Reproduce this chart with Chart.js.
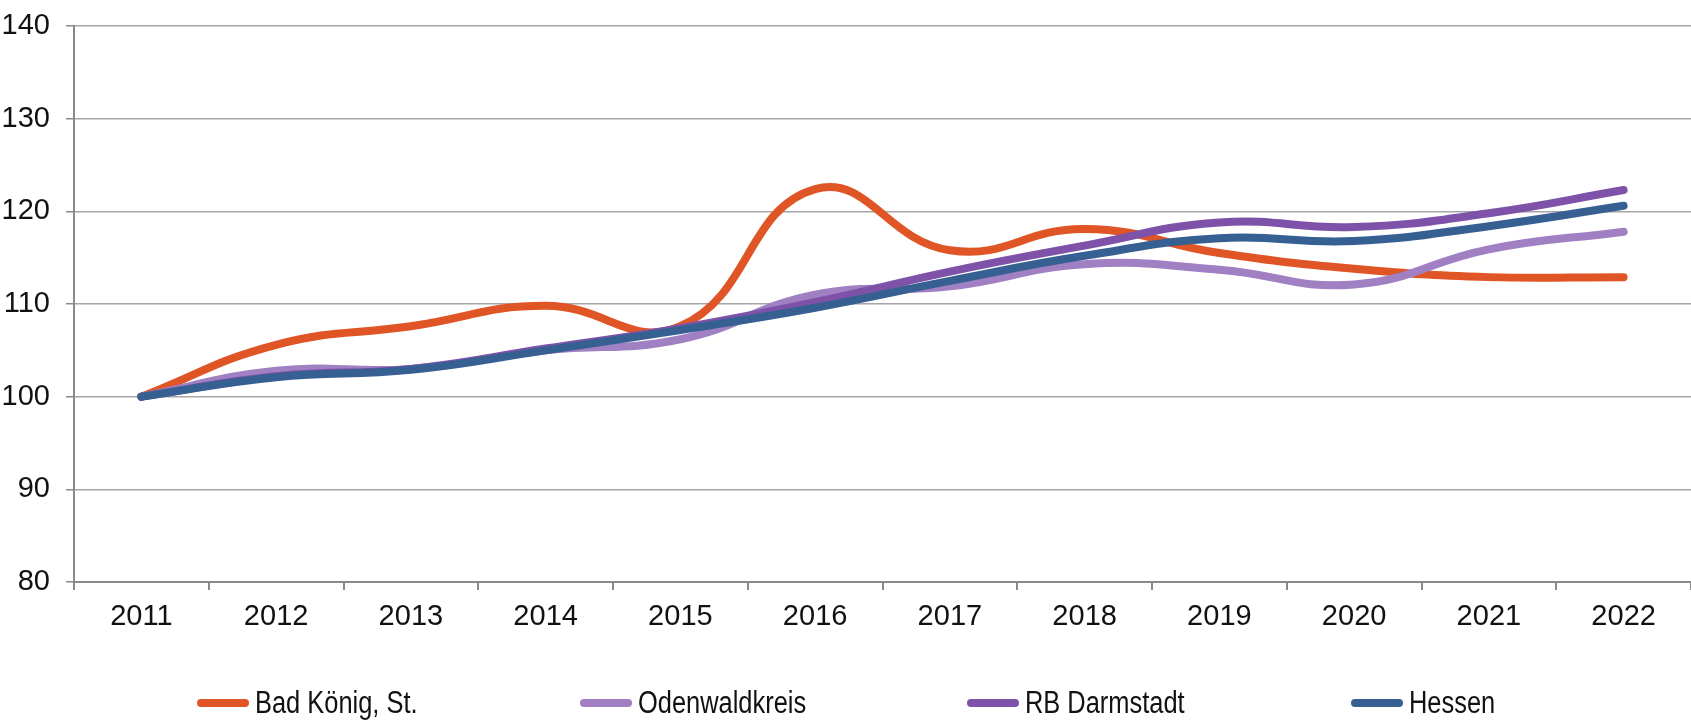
<!DOCTYPE html>
<html>
<head>
<meta charset="utf-8">
<script src="https://cdn.jsdelivr.net/npm/chart.js@4/dist/chart.umd.min.js"></script>
<style>
  html,body{margin:0;padding:0;background:#fff;}
  #wrap{position:relative;width:1691px;height:724px;}
  #legend{position:absolute;left:0;top:684px;width:1691px;height:38px;font-family:'Liberation Sans',Arial,sans-serif;font-size:31px;color:#111;}
  .lg{position:absolute;top:0;display:flex;align-items:center;height:38px;white-space:nowrap;}
  .lg i{display:inline-block;width:52px;height:8px;border-radius:4px;margin-right:6px;flex:none;}
  .lg span{display:inline-block;transform:scaleX(0.82);transform-origin:left center;}
</style>
</head>
<body>
<div id="wrap">
  <canvas id="c" width="1691" height="724"></canvas>
  <div id="legend"></div>
</div>
<script>
// ─── DATA ─────────────────────────────────────────────────────────────────────
const years = ['2011','2012','2013','2014','2015','2016','2017','2018','2019','2020','2021','2022'];
const badKoenig     = [100, 105.6, 107.6, 109.8, 107.6, 122.4, 115.8, 118.1, 115.5, 113.8, 112.9, 112.9];
const odenwaldkreis = [100, 102.8, 103.0, 105.0, 106.2, 111.0, 111.9, 114.3, 113.7, 112.1, 115.9, 117.8];
const rbDarmstadt   = [100, 102.2, 103.0, 105.2, 107.4, 110.2, 113.5, 116.3, 118.8, 118.3, 119.8, 122.3];
const hessen        = [100, 102.1, 102.9, 105.0, 107.2, 109.6, 112.5, 115.2, 117.1, 116.8, 118.4, 120.6];
const seriesNames   = ['Bad König, St.', 'Odenwaldkreis', 'RB Darmstadt', 'Hessen'];
const seriesColors  = ['#E05526', '#A07FC2', '#7D52A8', '#376092'];
const legendLeft    = [197, 580, 967, 1351];

const FONT = "'Liberation Sans',Arial,sans-serif";

const ds = (label, data, color) => ({
  label, data, borderColor: color, backgroundColor: color,
  borderWidth: 8, borderCapStyle: 'round', borderJoinStyle: 'round',
  pointRadius: 0, tension: 0.45, fill: false
});

new Chart(document.getElementById('c'), {
  type: 'line',
  data: { labels: years, datasets: [
    ds(seriesNames[0], badKoenig, seriesColors[0]),
    ds(seriesNames[1], odenwaldkreis, seriesColors[1]),
    ds(seriesNames[2], rbDarmstadt, seriesColors[2]),
    ds(seriesNames[3], hessen, seriesColors[3])
  ].reverse() },
  options: {
    responsive: false, animation: false, devicePixelRatio: 1,
    layout: { padding: { top: 26, right: 0, left: 0, bottom: 0 } },
    plugins: { legend: { display: false }, tooltip: { enabled: false } },
    scales: {
      x: {
        offset: true,
        grid: { offset: true, drawOnChartArea: false, drawTicks: true, tickLength: 8, color: '#8a8a8a', lineWidth: 2 },
        border: { color: '#8a8a8a', width: 2 },
        ticks: { color: '#111', font: { family: FONT, size: 29 }, padding: 10, maxRotation: 0 },
        afterFit: s => { s.height = 142; s.paddingLeft = 0; s.paddingRight = 0; }
      },
      y: {
        min: 80, max: 140,
        grid: { color: '#a6a6a6', lineWidth: 1.5, tickLength: 8, tickColor: '#8a8a8a' },
        border: { color: '#8a8a8a', width: 2 },
        ticks: { stepSize: 10, color: '#111', font: { family: FONT, size: 29 }, padding: 16 },
        afterFit: s => { s.width = 74; s.paddingTop = 0; s.paddingBottom = 0; }
      }
    }
  }
});

// legend
document.getElementById('legend').innerHTML = seriesNames.map((n, i) =>
  `<div class="lg" style="left:${legendLeft[i]}px"><i style="background:${seriesColors[i]}"></i><span>${n}</span></div>`).join('');
</script>
</body>
</html>
